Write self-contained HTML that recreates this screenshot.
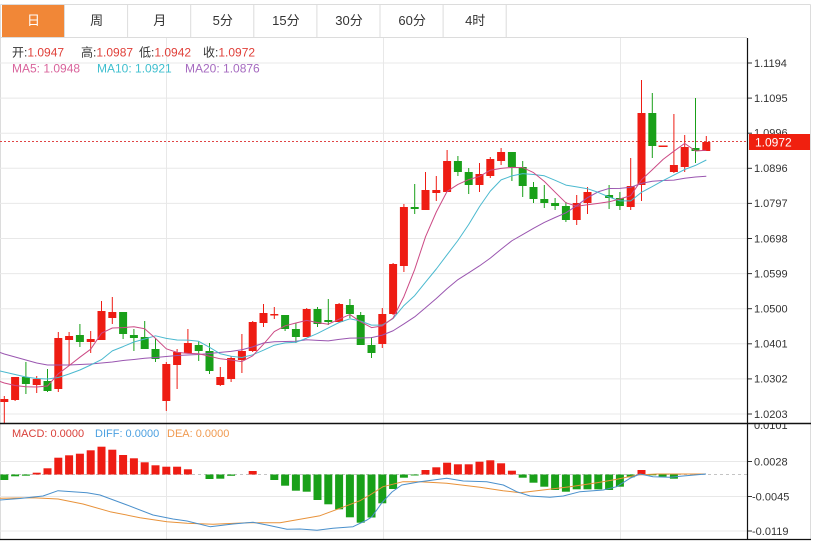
<!DOCTYPE html>
<html><head><meta charset="utf-8"><style>
html,body{margin:0;padding:0;background:#fff;}
svg{display:block;}
text{font-family:"Liberation Sans","Noto Sans CJK SC",sans-serif;}
</style></head><body>
<svg width="817" height="541" viewBox="0 0 817 541" xmlns="http://www.w3.org/2000/svg">
<defs>
<clipPath id="cm"><rect x="0" y="37" width="747" height="386"/></clipPath>
<clipPath id="cd"><rect x="0" y="424" width="747" height="115"/></clipPath>
<clipPath id="ct"><rect x="748" y="424" width="62" height="20"/></clipPath>
</defs>
<rect x="0" y="0" width="817" height="541" fill="#fff"/>

<!-- tab bar -->
<rect x="2" y="4.5" width="62" height="32.5" fill="#f18737"/>
<g stroke="#dcdcdc" stroke-width="1">
<line x1="0.5" y1="4.5" x2="810.5" y2="4.5"/>
<line x1="0.5" y1="4.5" x2="0.5" y2="540"/>
<line x1="810.5" y1="4.5" x2="810.5" y2="540"/>
<line x1="0" y1="37.5" x2="747" y2="37.5"/>
<line x1="64.5" y1="4.5" x2="64.5" y2="37"/>
<line x1="127.6" y1="4.5" x2="127.6" y2="37"/>
<line x1="190.7" y1="4.5" x2="190.7" y2="37"/>
<line x1="253.8" y1="4.5" x2="253.8" y2="37"/>
<line x1="316.9" y1="4.5" x2="316.9" y2="37"/>
<line x1="380" y1="4.5" x2="380" y2="37"/>
<line x1="443.1" y1="4.5" x2="443.1" y2="37"/>
<line x1="506.2" y1="4.5" x2="506.2" y2="37"/>
</g>
<g font-size="13" text-anchor="middle" fill="#333">
<text x="33.5" y="25" fill="#fff">日</text>
<text x="96.6" y="25">周</text>
<text x="159.7" y="25">月</text>
<text x="222.8" y="25">5分</text>
<text x="285.9" y="25">15分</text>
<text x="349" y="25">30分</text>
<text x="412.1" y="25">60分</text>
<text x="475.2" y="25">4时</text>
</g>

<!-- grid main -->
<g stroke="#e8e8e8" stroke-width="1">
<line x1="0" y1="63" x2="747" y2="63"/>
<line x1="0" y1="98.1" x2="747" y2="98.1"/>
<line x1="0" y1="133.2" x2="747" y2="133.2"/>
<line x1="0" y1="168.3" x2="747" y2="168.3"/>
<line x1="0" y1="203.4" x2="747" y2="203.4"/>
<line x1="0" y1="238.5" x2="747" y2="238.5"/>
<line x1="0" y1="273.6" x2="747" y2="273.6"/>
<line x1="0" y1="308.7" x2="747" y2="308.7"/>
<line x1="0" y1="343.8" x2="747" y2="343.8"/>
<line x1="0" y1="378.9" x2="747" y2="378.9"/>
<line x1="0" y1="414" x2="747" y2="414"/>
<line x1="0" y1="461.5" x2="747" y2="461.5"/>
<line x1="0" y1="496.5" x2="747" y2="496.5"/>
<line x1="0" y1="531" x2="747" y2="531"/>
<line x1="166.5" y1="38" x2="166.5" y2="539"/>
<line x1="383.5" y1="38" x2="383.5" y2="539"/>
<line x1="620.5" y1="38" x2="620.5" y2="539"/>
</g>

<!-- legends -->
<g font-size="12">
<text x="12" y="56.5" fill="#333">开:<tspan fill="#e0403a">1.0947</tspan></text>
<text x="81" y="56.5" fill="#333">高:<tspan fill="#e0403a">1.0987</tspan></text>
<text x="139" y="56.5" fill="#333">低:<tspan fill="#e0403a">1.0942</tspan></text>
<text x="203" y="56.5" fill="#333">收:<tspan fill="#e0403a">1.0972</tspan></text>
<text x="12" y="72.5" fill="#d9649c">MA5: 1.0948</text>
<text x="97" y="72.5" fill="#3fbfcf">MA10: 1.0921</text>
<text x="185" y="72.5" fill="#a66bc0">MA20: 1.0876</text>
</g>

<!-- last price dotted -->
<line x1="0" y1="141.5" x2="747" y2="141.5" stroke="#e04545" stroke-width="1" stroke-dasharray="2,2"/>

<g clip-path="url(#cm)">
<!-- candles red -->
<g fill="#ee1c13">
<rect x="3.8" y="396" width="1" height="28"/><rect x="0.3" y="399" width="8" height="3"/>
<rect x="14.6" y="377" width="1" height="24"/><rect x="11.1" y="377" width="8" height="23"/>
<rect x="36.2" y="376" width="1" height="17"/><rect x="32.7" y="379" width="8" height="6"/>
<rect x="57.8" y="332" width="1" height="60"/><rect x="54.3" y="338" width="8" height="51"/>
<rect x="68.6" y="332" width="1" height="33"/><rect x="65.1" y="336" width="8" height="4"/>
<rect x="90.2" y="331" width="1" height="22"/><rect x="86.7" y="339" width="8" height="3"/>
<rect x="101" y="301" width="1" height="39"/><rect x="97.5" y="311" width="8" height="29"/>
<rect x="111.8" y="297" width="1" height="27"/><rect x="108.3" y="312" width="8" height="6"/>
<rect x="165.8" y="362" width="1" height="49"/><rect x="162.3" y="364" width="8" height="37"/>
<rect x="176.6" y="349" width="1" height="40"/><rect x="173.1" y="352" width="8" height="13"/>
<rect x="187.4" y="329" width="1" height="24"/><rect x="183.9" y="343" width="8" height="10"/>
<rect x="219.8" y="367" width="1" height="19"/><rect x="216.3" y="377" width="8" height="8"/>
<rect x="230.6" y="356" width="1" height="26"/><rect x="227.1" y="358" width="8" height="21"/>
<rect x="241.4" y="334" width="1" height="39"/><rect x="237.9" y="351" width="8" height="9"/>
<rect x="252.2" y="321" width="1" height="31"/><rect x="248.7" y="322" width="8" height="29"/>
<rect x="263" y="304" width="1" height="23"/><rect x="259.5" y="313" width="8" height="10"/>
<rect x="273.8" y="307" width="1" height="12"/><rect x="270.3" y="314" width="8" height="1.5"/>
<rect x="306.2" y="308" width="1" height="29"/><rect x="302.7" y="309" width="8" height="28"/>
<rect x="338.6" y="303" width="1" height="20"/><rect x="335.1" y="304" width="8" height="18"/>
<rect x="381.8" y="308" width="1" height="40"/><rect x="378.3" y="314" width="8" height="30"/>
<rect x="392.6" y="263" width="1" height="52"/><rect x="389.1" y="264" width="8" height="50"/>
<rect x="403.4" y="204" width="1" height="68"/><rect x="399.9" y="207" width="8" height="59"/>
<rect x="425" y="172" width="1" height="38"/><rect x="421.5" y="190" width="8" height="20"/>
<rect x="435.8" y="176" width="1" height="25"/><rect x="432.3" y="190" width="8" height="3"/>
<rect x="446.6" y="150" width="1" height="42"/><rect x="443.1" y="161" width="8" height="31"/>
<rect x="479" y="163" width="1" height="29"/><rect x="475.5" y="174" width="8" height="11"/>
<rect x="489.8" y="157" width="1" height="21"/><rect x="486.3" y="159" width="8" height="17"/>
<rect x="500.6" y="148" width="1" height="17"/><rect x="497.1" y="152" width="8" height="9"/>
<rect x="576.2" y="195" width="1" height="30"/><rect x="572.7" y="203" width="8" height="17"/>
<rect x="587" y="187" width="1" height="27"/><rect x="583.5" y="192" width="8" height="11"/>
<rect x="630.2" y="158" width="1" height="52"/><rect x="626.7" y="186" width="8" height="21"/>
<rect x="641" y="80" width="1" height="121"/><rect x="637.5" y="113" width="8" height="72"/>
<rect x="658.6" y="145.5" width="9" height="1.5"/>
<rect x="673.4" y="114" width="1" height="59"/><rect x="669.9" y="165" width="8" height="7"/>
<rect x="684.2" y="135" width="1" height="37"/><rect x="680.7" y="147" width="8" height="20"/>
<rect x="705.8" y="136" width="1" height="15"/><rect x="702.3" y="142" width="8" height="9"/>
</g>
<!-- candles green -->
<g fill="#19a019">
<rect x="25.4" y="362" width="1" height="32"/><rect x="21.9" y="377" width="8" height="7"/>
<rect x="47" y="369" width="1" height="23"/><rect x="43.5" y="381" width="8" height="10"/>
<rect x="79.4" y="324" width="1" height="23"/><rect x="75.9" y="335" width="8" height="7"/>
<rect x="122.6" y="312" width="1" height="27"/><rect x="119.1" y="312" width="8" height="22"/>
<rect x="133.4" y="329" width="1" height="22"/><rect x="129.9" y="335" width="8" height="3"/>
<rect x="144.2" y="321" width="1" height="28"/><rect x="140.7" y="337" width="8" height="12"/>
<rect x="155" y="338" width="1" height="24"/><rect x="151.5" y="349" width="8" height="10"/>
<rect x="198.2" y="341" width="1" height="20"/><rect x="194.7" y="345" width="8" height="6"/>
<rect x="209" y="343" width="1" height="31"/><rect x="205.5" y="351" width="8" height="20"/>
<rect x="284.6" y="315" width="1" height="16"/><rect x="281.1" y="315" width="8" height="14"/>
<rect x="295.4" y="323" width="1" height="20"/><rect x="291.9" y="329" width="8" height="8"/>
<rect x="317" y="307" width="1" height="20"/><rect x="313.5" y="309" width="8" height="15"/>
<rect x="327.8" y="299" width="1" height="26"/><rect x="324.3" y="320" width="8" height="2"/>
<rect x="349.4" y="299" width="1" height="19"/><rect x="345.9" y="305" width="8" height="9"/>
<rect x="360.2" y="312" width="1" height="33"/><rect x="356.7" y="315" width="8" height="30"/>
<rect x="371" y="337" width="1" height="21"/><rect x="367.5" y="345" width="8" height="8"/>
<rect x="414.2" y="184" width="1" height="30"/><rect x="410.7" y="207" width="8" height="2"/>
<rect x="457.4" y="156" width="1" height="20"/><rect x="453.9" y="161" width="8" height="11"/>
<rect x="468.2" y="168" width="1" height="26"/><rect x="464.7" y="172" width="8" height="13"/>
<rect x="511.4" y="152" width="1" height="29"/><rect x="507.9" y="152" width="8" height="15"/>
<rect x="522.2" y="161" width="1" height="36"/><rect x="518.7" y="167" width="8" height="19"/>
<rect x="533" y="182" width="1" height="21"/><rect x="529.5" y="187" width="8" height="12"/>
<rect x="543.8" y="185" width="1" height="23"/><rect x="540.3" y="199" width="8" height="4"/>
<rect x="554.6" y="198" width="1" height="12"/><rect x="551.1" y="203" width="8" height="3"/>
<rect x="565.4" y="202" width="1" height="20"/><rect x="561.9" y="206" width="8" height="14"/>
<rect x="608.6" y="185" width="1" height="24"/><rect x="605.1" y="195" width="8" height="3"/>
<rect x="619.4" y="192" width="1" height="18"/><rect x="615.9" y="198" width="8" height="8"/>
<rect x="651.8" y="93" width="1" height="65"/><rect x="648.3" y="113" width="8" height="33"/>
<rect x="695" y="98" width="1" height="65"/><rect x="691.5" y="148" width="8" height="3"/>
</g>

<!-- MA lines -->
<g fill="none" stroke-width="1" stroke-linejoin="round">
<polyline stroke="#9a56b0" points="0,352.5 4.3,354 15.1,357 25.9,360 36.7,363 47.5,365 58.3,365 69.1,365 79.9,364.5 90.7,364 101.5,363 112.3,362 123.1,360.5 133.9,359.5 144.7,358.3 155.5,357.5 166.3,356.5 177.1,355.5 187.9,355 198.7,354.5 209.5,353.45 220.3,352.35 231.1,351.4 241.9,349.75 252.7,346.9 263.5,343 274.3,341.8 285.1,341.45 295.9,341.2 306.7,339.7 317.5,340.35 328.3,340.85 339.1,339.35 349.9,338.15 360.7,337.95 371.5,337.65 382.3,335.15 393.1,330.75 403.9,323.95 414.7,316.85 425.5,307.8 436.3,298.45 447.1,288.6 457.9,279.65 468.7,272.8 479.5,265.85 490.3,258.1 501.1,249.25 511.9,240.75 522.7,234.6 533.5,228.35 544.3,222.4 555.1,217.5 565.9,212.8 576.7,205.7 587.5,197.65 598.3,191.75 609.1,188.45 619.9,188.4 630.7,187.25 641.5,183.4 652.3,181.2 663.1,180.45 673.9,180.1 684.7,178.2 695.5,177.05 706.3,176.2"/>
<polyline stroke="#4bb9cf" points="0,371 4.3,372 15.1,374.5 25.9,377 36.7,378.5 47.5,379 58.3,377.5 69.1,374 79.9,370 90.7,365 101.5,359.6 112.3,350.9 123.1,346.6 133.9,342 144.7,339 155.5,335.8 166.3,338.4 177.1,340 187.9,340.1 198.7,341.3 209.5,347.3 220.3,353.8 231.1,356.2 241.9,357.5 252.7,354.8 263.5,350.2 274.3,345.2 285.1,342.9 295.9,342.3 306.7,338.1 317.5,333.4 328.3,327.9 339.1,322.5 349.9,318.8 360.7,321.1 371.5,325.1 382.3,325.1 393.1,318.6 403.9,305.6 414.7,295.6 425.5,282.2 436.3,269 447.1,254.7 457.9,240.5 468.7,224.5 479.5,206.6 490.3,191.1 501.1,179.9 511.9,175.9 522.7,173.6 533.5,174.5 544.3,175.8 555.1,180.3 565.9,185.1 576.7,186.9 587.5,188.7 598.3,192.4 609.1,197 619.9,200.9 630.7,200.9 641.5,192.3 652.3,186.6 663.1,180.6 673.9,175.1 684.7,169.5 695.5,165.4 706.3,160"/>
<polyline stroke="#cc4a85" points="0,381.5 4.3,383 15.1,385.5 25.9,386.7 36.7,387 47.5,386 58.3,373.8 69.1,365.6 79.9,357.2 90.7,349.2 101.5,333.2 112.3,328 123.1,327.6 133.9,326.8 144.7,328.8 155.5,338.4 166.3,348.8 177.1,352.4 187.9,353.4 198.7,353.8 209.5,356.2 220.3,358.8 231.1,360 241.9,361.6 252.7,355.8 263.5,344.2 274.3,331.6 285.1,325.8 295.9,323 306.7,320.4 317.5,322.6 328.3,324.2 339.1,319.2 349.9,314.6 360.7,321.8 371.5,327.6 382.3,326 393.1,318 403.9,296.6 414.7,269.4 425.5,236.8 436.3,212 447.1,191.4 457.9,184.4 468.7,179.6 479.5,176.4 490.3,170.2 501.1,168.4 511.9,167.4 522.7,167.6 533.5,172.6 544.3,181.4 555.1,192.2 565.9,202.8 576.7,206.2 587.5,204.8 598.3,203.4 609.1,201.8 619.9,199 630.7,195.6 641.5,179.8 652.3,169.8 663.1,159.4 673.9,151.2 684.7,143.4 695.5,151 706.3,150.2"/>
</g>
</g>

<!-- MACD panel -->
<g clip-path="url(#cd)">
<line x1="0" y1="474.5" x2="747" y2="474.5" stroke="#c4c4c4" stroke-width="1" stroke-dasharray="3,3"/>
<g fill="#ee1c13">
<rect x="32.7" y="472.7" width="8" height="1.8"/>
<rect x="43.5" y="468.3" width="8" height="6.2"/>
<rect x="54.3" y="457.7" width="8" height="16.8"/>
<rect x="65.1" y="455.3" width="8" height="19.2"/>
<rect x="75.9" y="453.7" width="8" height="20.8"/>
<rect x="86.7" y="450.3" width="8" height="24.2"/>
<rect x="97.5" y="446.7" width="8" height="27.8"/>
<rect x="108.3" y="449.7" width="8" height="24.8"/>
<rect x="119.1" y="455" width="8" height="19.5"/>
<rect x="129.9" y="458.3" width="8" height="16.2"/>
<rect x="140.7" y="462.3" width="8" height="12.2"/>
<rect x="151.5" y="465.3" width="8" height="9.2"/>
<rect x="162.3" y="466.7" width="8" height="7.8"/>
<rect x="173.1" y="466.7" width="8" height="7.8"/>
<rect x="183.9" y="469.3" width="8" height="5.2"/>
<rect x="248.7" y="471" width="8" height="3.5"/>
<rect x="421.5" y="470" width="8" height="4.5"/>
<rect x="432.3" y="467.3" width="8" height="7.2"/>
<rect x="443.1" y="462.7" width="8" height="11.8"/>
<rect x="453.9" y="464.3" width="8" height="10.2"/>
<rect x="464.7" y="464.3" width="8" height="10.2"/>
<rect x="475.5" y="461.7" width="8" height="12.8"/>
<rect x="486.3" y="460.3" width="8" height="14.2"/>
<rect x="497.1" y="463.3" width="8" height="11.2"/>
<rect x="507.9" y="470.7" width="8" height="3.8"/>
<rect x="637.5" y="470" width="8" height="4.5"/>
</g>
<g fill="#19a019">
<rect x="0.3" y="474.5" width="8" height="5.5"/>
<rect x="11.1" y="474.5" width="8" height="1.8"/>
<rect x="21.9" y="474.5" width="8" height="1.2"/>
<rect x="205.5" y="474.5" width="8" height="4.5"/>
<rect x="216.3" y="474.5" width="8" height="4.2"/>
<rect x="227.1" y="474.5" width="8" height="1.3"/>
<rect x="270.3" y="474.5" width="8" height="5.5"/>
<rect x="281.1" y="474.5" width="8" height="11.2"/>
<rect x="291.9" y="474.5" width="8" height="16.2"/>
<rect x="302.7" y="474.5" width="8" height="17.2"/>
<rect x="313.5" y="474.5" width="8" height="25.5"/>
<rect x="324.3" y="474.5" width="8" height="29.8"/>
<rect x="335.1" y="474.5" width="8" height="34.8"/>
<rect x="345.9" y="474.5" width="8" height="42.8"/>
<rect x="356.7" y="474.5" width="8" height="48.2"/>
<rect x="367.5" y="474.5" width="8" height="43"/>
<rect x="378.3" y="474.5" width="8" height="28.8"/>
<rect x="389.1" y="474.5" width="8" height="14.5"/>
<rect x="399.9" y="474.5" width="8" height="3.2"/>
<rect x="410.7" y="474.5" width="8" height="1"/>
<rect x="518.7" y="474.5" width="8" height="3.2"/>
<rect x="529.5" y="474.5" width="8" height="8.2"/>
<rect x="540.3" y="474.5" width="8" height="12.2"/>
<rect x="551.1" y="474.5" width="8" height="15.5"/>
<rect x="561.9" y="474.5" width="8" height="17.2"/>
<rect x="572.7" y="474.5" width="8" height="14.8"/>
<rect x="583.5" y="474.5" width="8" height="14.8"/>
<rect x="594.3" y="474.5" width="8" height="14.8"/>
<rect x="605.1" y="474.5" width="8" height="15.5"/>
<rect x="615.9" y="474.5" width="8" height="12.2"/>
<rect x="626.7" y="474.5" width="8" height="2.8"/>
<rect x="648.3" y="474.5" width="8" height="0.8"/>
<rect x="658.6" y="474.5" width="8" height="2.2"/>
<rect x="669.9" y="474.5" width="8" height="4.2"/>
</g>
<g fill="none" stroke-width="1" stroke-linejoin="round">
<polyline stroke="#e8923a" points="0,498.3 33,497.7 58,499 83,504 110,511.7 140,517.7 167,521.7 187,523.3 213,524.3 247,522.7 280,522.7 300,519.3 320,515.7 340,508.3 360,500.7 370,495 383,486.7 403,481.7 420,481.7 446.7,483.3 480,487.3 503,490.7 520,492.7 543,490 570,486.7 597,482.7 617,479.3 637,475 657,474 706,474"/>
<polyline stroke="#4a90cc" points="0,500 20,498.5 43,496 58,490.7 87,492.7 100,495 127,505 153,515 173,519 187,521 210,526.7 233,524 253,522.3 267,525 287,529.3 300,529 317,530.3 333,528.3 353,526.7 367,520 372,516.7 381.7,503 392,492 401.7,485 420,481.7 446.7,478.3 463.3,481 486.7,481.7 503.3,485 516.7,491.7 530,496 550,497.3 563.3,496 580,491.7 603.3,490 616.7,486.7 630,478.3 640,474 653,476.7 670,477.3 683,476 706,474"/>
</g>
</g>
<g font-size="11">
<text x="12" y="437" fill="#d9403a">MACD: 0.0000</text>
<text x="95" y="437" fill="#4ca0e0">DIFF: 0.0000</text>
<text x="167" y="437" fill="#f09a50">DEA: 0.0000</text>
</g>

<!-- axis labels -->
<g stroke="#333" stroke-width="1">
<line x1="747" y1="63" x2="752" y2="63"/>
<line x1="747" y1="98.1" x2="752" y2="98.1"/>
<line x1="747" y1="133.2" x2="752" y2="133.2"/>
<line x1="747" y1="168.3" x2="752" y2="168.3"/>
<line x1="747" y1="203.4" x2="752" y2="203.4"/>
<line x1="747" y1="238.5" x2="752" y2="238.5"/>
<line x1="747" y1="273.6" x2="752" y2="273.6"/>
<line x1="747" y1="308.7" x2="752" y2="308.7"/>
<line x1="747" y1="343.8" x2="752" y2="343.8"/>
<line x1="747" y1="378.9" x2="752" y2="378.9"/>
<line x1="747" y1="414" x2="752" y2="414"/>
<line x1="747" y1="461.5" x2="752" y2="461.5"/>
<line x1="747" y1="496.5" x2="752" y2="496.5"/>
<line x1="747" y1="531" x2="752" y2="531"/>
</g>
<g font-size="11" fill="#333">
<text x="754" y="67">1.1194</text>
<text x="754" y="102">1.1095</text>
<text x="754" y="136.5">1.0996</text>
<text x="754" y="172">1.0896</text>
<text x="754" y="207">1.0797</text>
<text x="754" y="242.5">1.0698</text>
<text x="754" y="277.5">1.0599</text>
<text x="754" y="312.5">1.0500</text>
<text x="754" y="347.5">1.0401</text>
<text x="754" y="382.5">1.0302</text>
<text x="754" y="418">1.0203</text>
<text x="754" y="429" clip-path="url(#ct)">0.0101</text>
<text x="754" y="465.5">0.0028</text>
<text x="752" y="500.5">-0.0045</text>
<text x="752" y="535">-0.0119</text>
</g>

<!-- price tag -->
<rect x="749" y="134" width="61" height="16" fill="#f0200f"/>
<text x="755" y="146.5" font-size="12" fill="#fff">1.0972</text>

<!-- frame lines -->
<line x1="747.5" y1="38" x2="747.5" y2="540" stroke="#111" stroke-width="1.2"/>
<line x1="0" y1="423.5" x2="811" y2="423.5" stroke="#111" stroke-width="1.4"/>
<line x1="0" y1="539.5" x2="811" y2="539.5" stroke="#111" stroke-width="1.2"/>
</svg>
</body></html>
